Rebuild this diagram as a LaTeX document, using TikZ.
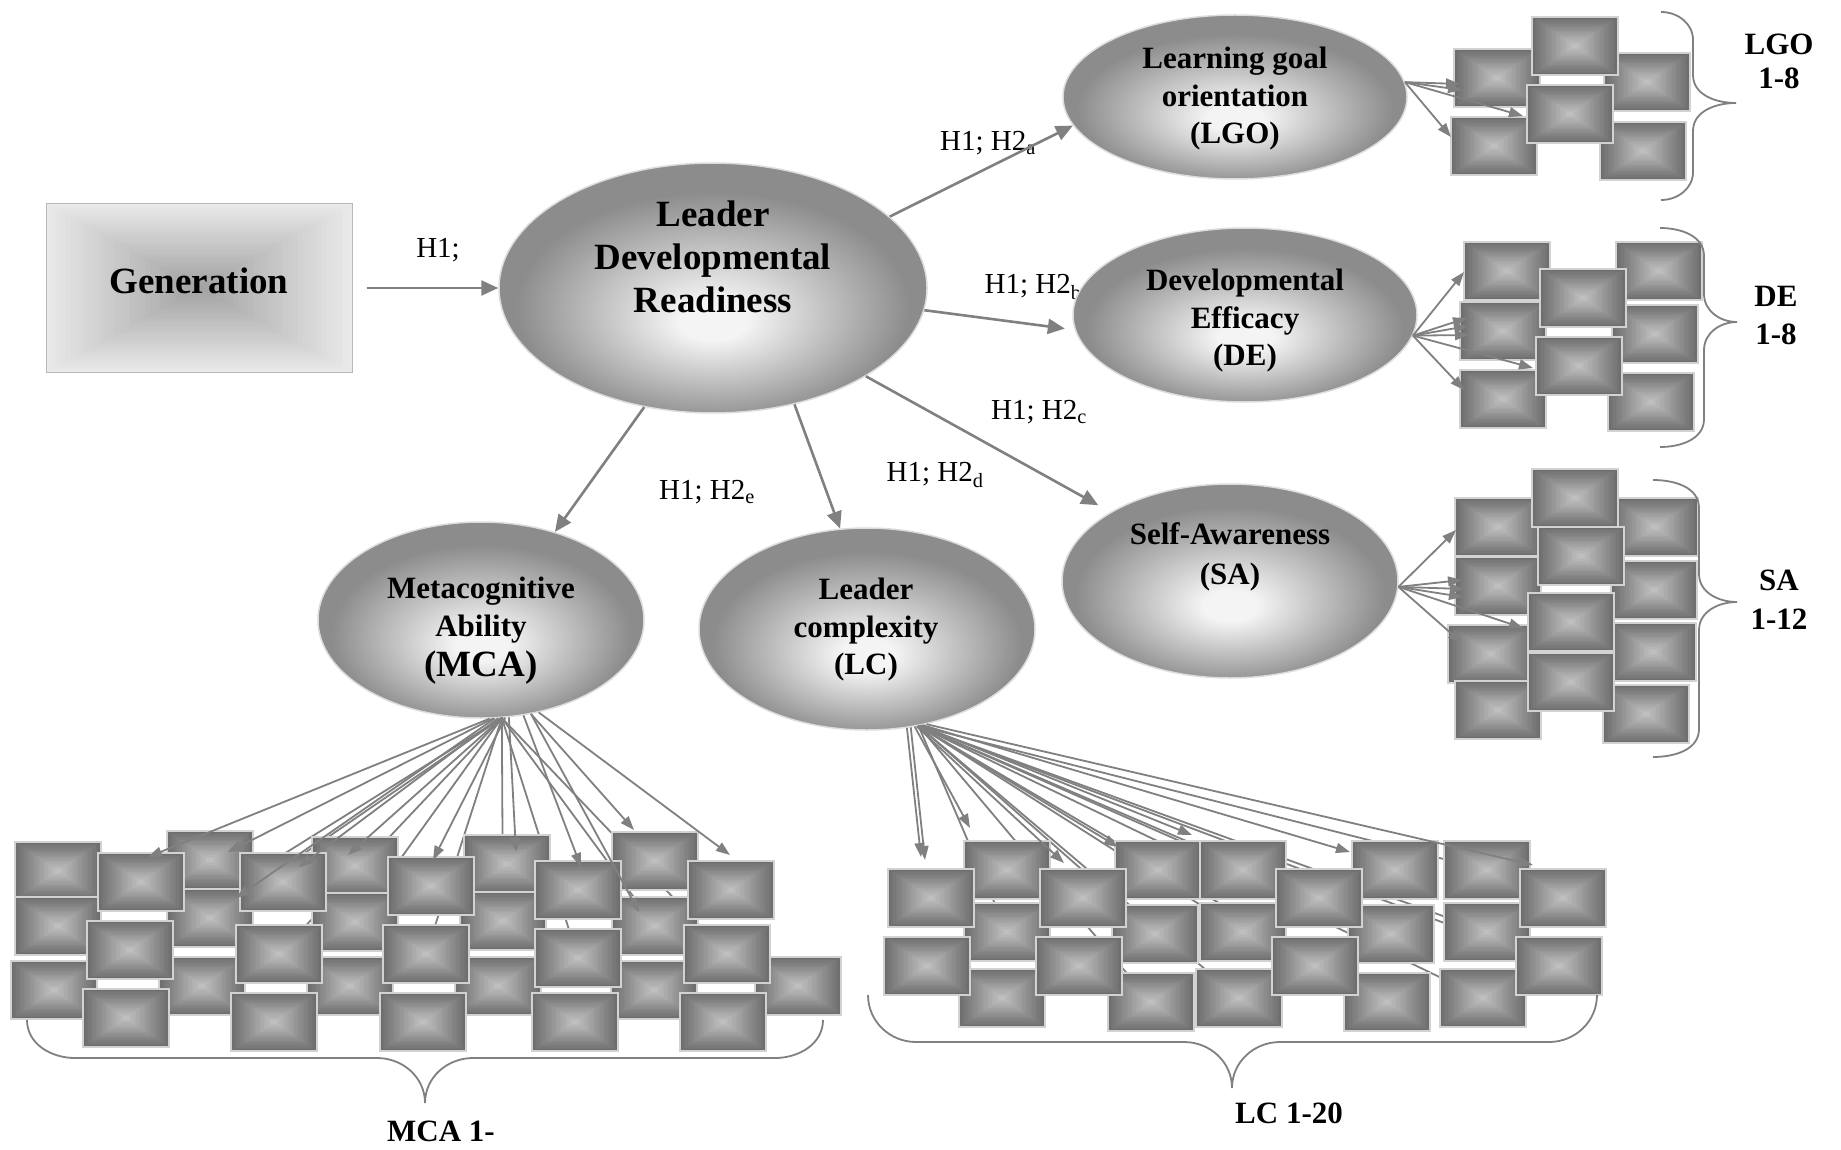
\documentclass[tikz,border=0pt]{standalone}
\usepackage{fontspec}
\setmainfont{Liberation Serif}
\usetikzlibrary{shapes.geometric,arrows.meta,calc}
\definecolor{ellin}{HTML}{F4F4F4}
\definecolor{ellout}{HTML}{8C8C8C}
\definecolor{ellline}{HTML}{DCDCDC}
\definecolor{arrgray}{HTML}{808080}
\definecolor{boxout}{HTML}{6E6E6E}
\definecolor{boxin}{HTML}{BFBFBF}
\definecolor{boxedge}{HTML}{D2D2D2}
\definecolor{genout}{HTML}{E9E9E9}
\definecolor{genin}{HTML}{A3A3A3}
\definecolor{genedge}{HTML}{B8B8B8}
\pgfdeclareradialshading{ellshade}{\pgfpoint{0bp}{-7bp}}{color(0bp)=(ellin); color(4bp)=(ellin); color(23bp)=(ellout); color(50bp)=(ellout)}
\newcommand\pyrfill[3]{% outer inner steps
  \foreach \i in {0,...,#3}{%
    \pgfmathsetmacro\f{1-\i/(#3+1)}%
    \pgfmathsetmacro\p{100*\i/#3}%
    \fill[color=#2!\p!#1] ($(path picture bounding box.center)!\f!(path picture bounding box.north west)$) rectangle ($(path picture bounding box.center)!\f!(path picture bounding box.south east)$);}}
\newcommand\vbrc[7]{% x0 ytop ybot ytip xspine xtip r
  \draw[brc] (#1,#2) to[out=0,in=90] (#5,#2+#7) -- (#5,#4-#7) to[out=-90,in=180] (#6,#4) to[out=180,in=90] (#5,#4+#7) -- (#5,#3-#7) to[out=-90,in=0] (#1,#3);}
\newcommand\hbrc[7]{% x0 x1 y0 yspine xtip ytip r
  \draw[brc] (#1,#3) to[out=-90,in=180] (#1+#7,#4) -- (#5-#7,#4) to[out=0,in=90] (#5,#6) to[out=90,in=180] (#5+#7,#4) -- (#2-#7,#4) to[out=0,in=-90] (#2,#3);}
\tikzset{
  itembox/.style={draw=boxedge, line width=1.5pt, fill=boxout, minimum width=86pt, minimum height=58pt, inner sep=0pt, path picture={\pyrfill{boxout}{boxin}{16}}},
  genbox/.style={draw=genedge, line width=1pt, fill=genout, minimum width=306pt, minimum height=169pt, inner sep=0pt, path picture={\pyrfill{genout}{genin}{30}}},
  ell/.style={ellipse, draw=ellline, line width=1.5pt, shading=ellshade, inner sep=0pt},
  bigt/.style={font=\fontsize{37}{43}\selectfont\bfseries, align=center, inner sep=0pt},
  midt/.style={font=\fontsize{31}{37.5}\selectfont\bfseries, align=center, inner sep=0pt},
  lab/.style={font=\fontsize{29}{34}\selectfont, inner sep=0pt},
  arr/.style={draw=arrgray, line width=2.6pt, -{Triangle[length=17pt,width=15pt]}},
  fan/.style={draw=arrgray, line width=1.8pt, -{Triangle[length=14pt,width=10pt]}},
  hid/.style={draw=arrgray, line width=1.8pt},
  brc/.style={draw=arrgray, line width=1.8pt},
}
\begin{document}
\begin{tikzpicture}[x=1pt,y=-1pt]
\useasboundingbox (0,0) rectangle (1841,1150);
\fill[white] (0,0) rectangle (1841,1150);

% labels (behind ellipses)
\node[lab] (h1) at (438,250) {H1;};
\node[lab] (h2a) at (988,143) {H1; H2\textsubscript{a}};
\node[lab] (h2b) at (1033,287) {H1; H2\textsubscript{b}};
\node[lab] (h2c) at (1039,412) {H1; H2\textsubscript{c}};
\node[lab] (h2d) at (935,475) {H1; H2\textsubscript{d}};
\node[lab] (h2e) at (707,492) {H1; H2\textsubscript{e}};

% generation
\node[genbox] (gen) at (199,288) {};
\node[bigt] (tgen) at (199,281) {Generation};

% ellipses
\node[ell, minimum width=428pt, minimum height=250pt] (ldr) at (713,288) {};
\node[bigt] (tldr) at (713,257) {Leader\\Developmental\\Readiness};
\node[ell, minimum width=344pt, minimum height=164pt] (lgo) at (1235,97) {};
\node[midt] (tlgo) at (1235,99) {Learning goal\\orientation\\(LGO)};
\node[ell, minimum width=344pt, minimum height=174pt] (de) at (1245,315) {};
\node[midt] (tde) at (1245,321) {Developmental\\Efficacy\\(DE)};
\node[ell, minimum width=336pt, minimum height=194pt] (sa) at (1230,581) {};
\node[midt, font=\fontsize{31}{40}\selectfont\bfseries] (tsa) at (1230,557) {Self-Awareness\\(SA)};
\node[ell, minimum width=326pt, minimum height=196pt] (mca) at (481,620) {};
\node[midt] (tmca) at (481,631) {Metacognitive\\Ability\\[3pt]{\fontsize{37}{40}\selectfont(MCA)}};
\node[ell, minimum width=336pt, minimum height=202pt] (lc) at (867,629) {};
\node[midt] (tlc) at (866,630) {Leader\\complexity\\(LC)};

% main arrows
\draw[arr] ([xshift=14pt]gen.east) -- (ldr.west);
\draw[arr] (ldr.22) -- (lgo.190);
\draw[arr, shorten >=10pt] (ldr.-6) -- (de.185);
\draw[arr, shorten >=14pt] (ldr.-30) -- (sa.150);
\draw[arr] (ldr.-55) -- (lc.105);
\draw[arr] (ldr.-120) -- (mca.50);

% hidden fan line ends (behind all boxes)
\coordinate (mh1) at (210,918); \coordinate (mh2) at (355,922); \coordinate (mh3) at (503,921);
\coordinate (mh4) at (655,926); \coordinate (mh5) at (130,950); \coordinate (mh6) at (279,954);
\coordinate (mh7) at (426,954); \coordinate (mh8) at (578,958); \coordinate (mh9) at (727,954);
\foreach \t in {mh1,mh2,mh3,mh4,mh5,mh6,mh7,mh8,mh9}
  \draw[hid] (mca.-78) -- (\t);
\coordinate (ch1) at (1007,932); \coordinate (ch2) at (1155,934); \coordinate (ch3) at (1243,932);
\coordinate (ch4) at (1391,934); \coordinate (ch5) at (1487,932); \coordinate (ch6) at (1151,1002);
\coordinate (ch7) at (1239,998); \coordinate (ch8) at (1387,1002); \coordinate (ch9) at (1483,998);
\coordinate (ch10) at (1487,870); \coordinate (ch11) at (1319,898); \coordinate (ch12) at (1559,966);
\foreach \t in {ch1,ch2,ch3,ch4,ch5,ch6,ch7,ch8,ch9,ch10,ch11,ch12}
  \draw[hid] (lc.-62) -- (\t);

% MCA boxes (back)
\foreach \n/\x/\y in {m1/58/871, m3/210/860, m5/355/866, m7/507/864, m9/655/861,
  m11/58/926, m13/210/918, m15/355/922, m17/503/921, m19/655/926,
  m21/54/990, m23/202/986, m25/350/986, m27/498/986, m29/654/990, m31/798/986}
  \node[itembox] (\n) at (\x,\y) {};
% LC boxes (back layer)
\foreach \n/\x/\y in {c1/1007/870, c2/1158/870, c3/1243/870, c4/1395/870, c5/1487/870,
  c10/1007/932, c11/1155/934, c12/1243/932, c13/1391/934, c14/1487/932,
  c19/1002/998, c20/1151/1002, c21/1239/998, c22/1387/1002, c23/1483/998}
  \node[itembox] (\n) at (\x,\y) {};
% MCA front boxes
\foreach \n/\x/\y in {m2/141/882, m4/283/882, m6/431/886, m8/578/890, m10/731/890,
  m12/130/950, m14/279/954, m16/426/954, m18/578/958, m20/727/954,
  m22/126/1018, m24/274/1022, m26/423/1022, m28/575/1022, m30/723/1022}
  \node[itembox] (\n) at (\x,\y) {};
% LC front boxes
\foreach \n/\x/\y in {c6/931/898, c7/1083/898, c8/1319/898, c9/1563/898,
  c15/927/966, c16/1079/966, c17/1315/966, c18/1559/966}
  \node[itembox] (\n) at (\x,\y) {};

% LGO boxes
\foreach \n/\x/\y in {l1/1497/78, l3/1647/82, l5/1494/146, l6/1643/151, l2/1575/46, l4/1570/114}
  \node[itembox] (\n) at (\x,\y) {};
% DE boxes
\foreach \n/\x/\y in {d1/1507/271, d2/1659/271, d4/1503/331, d5/1655/334, d6/1503/399, d8/1651/402, d3/1583/298, d7/1579/366}
  \node[itembox] (\n) at (\x,\y) {};
% SA boxes
\foreach \n/\x/\y in {s1/1498/527, s3/1655/527, s5/1498/586, s6/1654/590, s8/1491/654, s9/1653/652, s11/1498/710, s12/1646/714, s2/1575/498, s4/1581/556, s7/1571/622, s10/1571/682}
  \node[itembox] (\n) at (\x,\y) {};

% visible MCA fan
\foreach \a/\t/\dx/\dy in {-85/m2/7/-25, -83/m3/18/-8, -82/m13/26/-20, -80/m4/16/-15, -78/m5/-7/-11,
  -76/m6/2/-26, -74/m7/9/-12, -66/m8/3/-23, -62/m9/-21/-31, -62/m19/-16/-14, -58/m10/-1/-35}
  \draw[fan] (mca.\a) -- ([shift={(\dx,\dy)}]\t.center);
% visible LC fan
\foreach \a/\t/\dx/\dy in {-68/c6/-10/-41, -66/c6/-6/-38, -64/c1/-37/-42, -63/c7/-19/-35,
  -62/c2/-40/-23, -61/c3/-51/-35, -60/c4/-45/-18, -58/c9/-30/-33}
  \draw[fan] (lc.\a) -- ([shift={(\dx,\dy)}]\t.center);
% LGO fan
\foreach \t/\dx/\dy in {l1/-35/12, l1/-37/6, l4/-47/2, l5/-43/-9}
  \draw[fan] (lgo.5) -- ([shift={(\dx,\dy)}]\t.center);
% DE fan
\foreach \t/\dx/\dy in {d1/-43/1, d4/-36/-13, d4/-35/-5, d4/-34/4, d6/-39/-9, d7/-46/2}
  \draw[fan] (de.-7) -- ([shift={(\dx,\dy)}]\t.center);
% SA fan
\foreach \t/\dx/\dy in {s1/-42/3, s5/-36/-6, s5/-34/3, s5/-35/11, s8/-29/-11, s7/-48/6}
  \draw[fan] (sa.-2) -- ([shift={(\dx,\dy)}]\t.center);

% braces
\vbrc{1661}{12}{200}{103}{1693}{1736}{28}
\vbrc{1660}{228}{447}{322}{1704}{1737}{28}
\vbrc{1653}{480}{757}{602}{1699}{1737}{28}
\hbrc{27}{823}{1020}{1058}{425}{1103}{48}
\hbrc{868}{1597}{995}{1042}{1232}{1088}{48}

% group labels
\node[midt, font=\fontsize{31}{34}\selectfont\bfseries] (llgo) at (1779,61) {LGO\\1-8};
\node[midt, font=\fontsize{31}{38}\selectfont\bfseries] (lde) at (1776,316) {DE\\1-8};
\node[midt, font=\fontsize{31}{39}\selectfont\bfseries] (lsa) at (1779,600) {SA\\1-12};
\node[midt] (lmca) at (441,1131) {MCA 1-};
\node[midt] (llc) at (1289,1113) {LC 1-20};
\end{tikzpicture}
\end{document}
